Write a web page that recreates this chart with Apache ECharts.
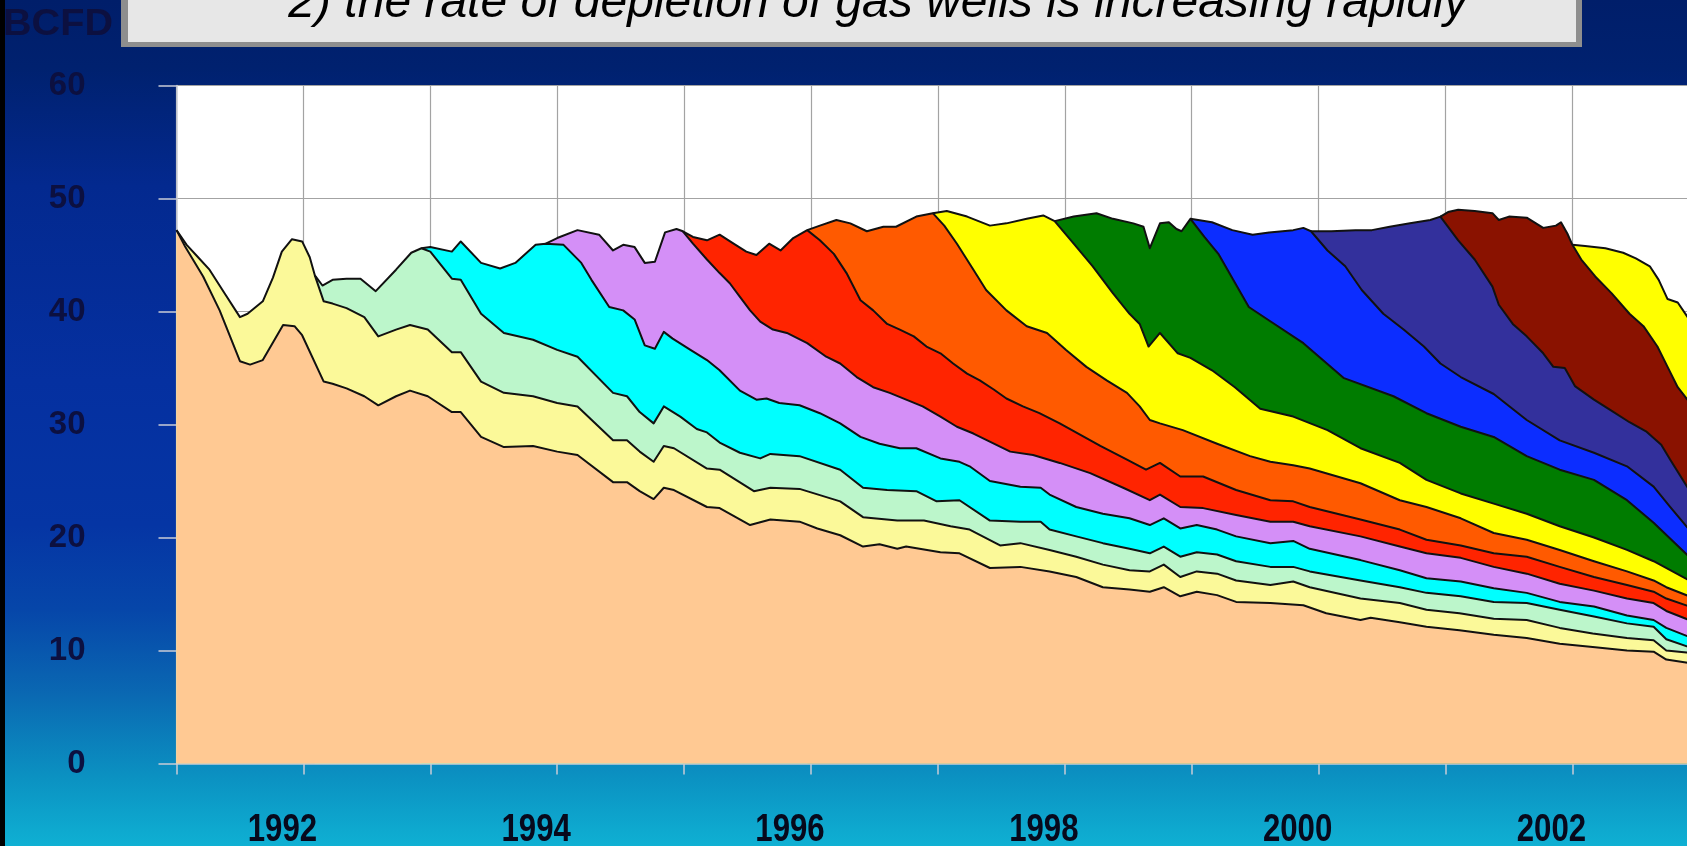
<!DOCTYPE html>
<html><head><meta charset="utf-8">
<script src="https://cdn.jsdelivr.net/npm/echarts@6/dist/echarts.min.js"></script>
<style>
html,body{margin:0;padding:0;overflow:hidden;width:1687px;height:846px;}
#c{width:1700px;height:846px;background:linear-gradient(to right,#000 0,#000 5px,transparent 5px),linear-gradient(to bottom,#001e6a 0%,#00216f 8%,#03298f 22%,#0530a0 45%,#0535a4 62%,#0646a9 72%,#0a68b2 82%,#0b92c2 92%,#0fb0d3 100%);}
</style></head><body><div id="c"></div>
<script>
// Cumulative production (BCFD): top edge of each vintage band, [year, value]
const pre1991 = [[1991.00,47.2],[1991.07,45.7],[1991.21,43.1],[1991.34,40.1],[1991.50,35.6],[1991.58,35.3],[1991.68,35.7],[1991.84,38.8],[1991.93,38.7],[1991.99,37.9],[1992.16,33.8],[1992.23,33.6],[1992.34,33.2],[1992.48,32.5],[1992.59,31.7],[1992.73,32.5],[1992.84,33.0],[1992.98,32.5],[1993.17,31.1],[1993.24,31.1],[1993.40,28.9],[1993.58,28.0],[1993.81,28.1],[1994.00,27.6],[1994.16,27.3],[1994.44,24.9],[1994.55,24.9],[1994.65,24.1],[1994.76,23.4],[1994.84,24.4],[1994.92,24.2],[1995.18,22.7],[1995.28,22.6],[1995.52,21.1],[1995.68,21.6],[1995.91,21.4],[1996.05,20.8],[1996.23,20.2],[1996.41,19.2],[1996.54,19.4],[1996.68,19.0],[1996.75,19.2],[1997.02,18.7],[1997.17,18.6],[1997.41,17.3],[1997.65,17.4],[1997.88,17.0],[1998.09,16.5],[1998.30,15.6],[1998.51,15.4],[1998.67,15.2],[1998.78,15.6],[1998.91,14.8],[1999.04,15.2],[1999.20,14.9],[1999.35,14.3],[1999.62,14.2],[1999.88,14.0],[2000.06,13.3],[2000.33,12.7],[2000.41,12.9],[2000.64,12.5],[2000.85,12.1],[2001.11,11.8],[2001.38,11.4],[2001.64,11.1],[2001.90,10.6],[2002.16,10.3],[2002.43,10.0],[2002.64,9.9],[2002.74,9.2],[2002.92,8.9]];
const v1991 = [[1991.00,47.2],[1991.08,45.9],[1991.17,44.8],[1991.26,43.7],[1991.38,41.6],[1991.50,39.5],[1991.56,39.8],[1991.68,40.9],[1991.76,43.0],[1991.83,45.3],[1991.91,46.4],[1991.99,46.2],[1992.05,44.8],[1992.09,43.2],[1992.16,40.9],[1992.23,40.7],[1992.34,40.3],[1992.48,39.5],[1992.59,37.8],[1992.73,38.4],[1992.84,38.8],[1992.98,38.4],[1993.17,36.4],[1993.24,36.4],[1993.40,33.8],[1993.58,32.8],[1993.81,32.5],[1994.00,31.9],[1994.16,31.6],[1994.44,28.6],[1994.55,28.6],[1994.65,27.6],[1994.76,26.7],[1994.84,28.1],[1994.92,27.9],[1995.18,26.1],[1995.28,26.0],[1995.55,24.1],[1995.68,24.4],[1995.91,24.3],[1996.23,23.2],[1996.41,21.8],[1996.68,21.5],[1996.89,21.5],[1997.10,21.0],[1997.25,20.7],[1997.49,19.3],[1997.65,19.5],[1997.88,18.9],[1998.09,18.3],[1998.30,17.6],[1998.51,17.1],[1998.67,17.0],[1998.78,17.6],[1998.91,16.5],[1999.04,17.0],[1999.20,16.8],[1999.35,16.2],[1999.62,15.8],[1999.80,16.1],[1999.93,15.6],[2000.33,14.6],[2000.64,14.2],[2000.85,13.6],[2001.11,13.3],[2001.38,12.8],[2001.64,12.7],[2001.90,12.0],[2002.16,11.5],[2002.43,11.1],[2002.64,10.9],[2002.74,10.0],[2002.92,9.8]];
const v1992 = [[1992.09,43.2],[1992.15,42.3],[1992.23,42.8],[1992.34,42.9],[1992.45,42.9],[1992.57,41.8],[1992.73,43.7],[1992.85,45.2],[1992.93,45.6],[1993.00,45.3],[1993.17,42.9],[1993.24,42.8],[1993.40,39.8],[1993.58,38.1],[1993.81,37.5],[1994.00,36.6],[1994.16,36.0],[1994.44,32.8],[1994.55,32.5],[1994.65,31.1],[1994.76,30.1],[1994.84,31.6],[1994.97,30.7],[1995.10,29.6],[1995.18,29.3],[1995.28,28.4],[1995.44,27.5],[1995.60,27.0],[1995.68,27.4],[1995.91,27.2],[1996.23,26.0],[1996.41,24.4],[1996.60,24.2],[1996.83,24.1],[1996.99,23.2],[1997.17,23.3],[1997.41,21.5],[1997.65,21.4],[1997.81,21.4],[1997.88,20.7],[1998.09,20.1],[1998.30,19.5],[1998.51,19.0],[1998.67,18.6],[1998.78,19.2],[1998.91,18.3],[1999.04,18.7],[1999.20,18.5],[1999.35,17.9],[1999.62,17.4],[1999.80,17.4],[1999.93,17.0],[2000.33,16.2],[2000.64,15.6],[2000.85,15.1],[2001.12,14.8],[2001.38,14.3],[2001.64,14.2],[2001.90,13.6],[2002.17,13.0],[2002.43,12.4],[2002.64,12.1],[2002.74,11.0],[2002.92,10.3]];
const v1993 = [[1992.93,45.6],[1993.00,45.7],[1993.17,45.3],[1993.24,46.2],[1993.40,44.3],[1993.55,43.8],[1993.67,44.3],[1993.83,45.9],[1993.91,46.0],[1994.05,45.9],[1994.19,44.3],[1994.27,42.8],[1994.41,40.4],[1994.52,40.1],[1994.61,39.3],[1994.69,37.0],[1994.77,36.7],[1994.84,38.2],[1994.91,37.6],[1995.05,36.6],[1995.18,35.7],[1995.28,34.8],[1995.44,33.0],[1995.57,32.2],[1995.65,32.3],[1995.75,31.9],[1995.91,31.7],[1996.07,31.0],[1996.23,30.1],[1996.39,28.9],[1996.54,28.3],[1996.70,27.9],[1996.83,27.9],[1997.02,27.0],[1997.17,26.7],[1997.25,26.3],[1997.41,25.0],[1997.65,24.5],[1997.81,24.4],[1997.88,23.8],[1998.09,22.7],[1998.30,22.1],[1998.51,21.7],[1998.67,21.1],[1998.78,21.7],[1998.91,20.8],[1999.04,21.1],[1999.20,20.7],[1999.35,20.1],[1999.62,19.5],[1999.80,19.7],[1999.93,19.0],[2000.33,18.0],[2000.64,17.1],[2000.85,16.4],[2001.12,16.1],[2001.38,15.5],[2001.64,15.1],[2001.90,14.3],[2002.17,13.9],[2002.43,13.1],[2002.64,12.7],[2002.74,12.0],[2002.92,11.2]];
const v1994 = [[1993.91,46.0],[1994.00,46.5],[1994.16,47.2],[1994.33,46.8],[1994.44,45.4],[1994.52,45.9],[1994.61,45.7],[1994.69,44.3],[1994.77,44.4],[1994.85,47.0],[1994.94,47.3],[1994.99,47.1],[1995.07,46.0],[1995.18,44.6],[1995.28,43.4],[1995.36,42.5],[1995.44,41.3],[1995.52,40.1],[1995.60,39.1],[1995.70,38.4],[1995.81,38.1],[1995.97,37.2],[1996.12,36.0],[1996.23,35.4],[1996.36,34.2],[1996.49,33.3],[1996.62,32.8],[1996.75,32.2],[1996.88,31.6],[1997.02,30.7],[1997.15,29.8],[1997.28,29.2],[1997.57,27.6],[1997.75,27.3],[1997.96,26.6],[1998.20,25.7],[1998.46,24.4],[1998.67,23.3],[1998.75,23.8],[1998.91,22.7],[1999.09,22.6],[1999.35,22.0],[1999.62,21.4],[1999.80,21.4],[1999.93,21.0],[2000.33,20.1],[2000.64,19.2],[2000.85,18.6],[2001.12,18.2],[2001.38,17.4],[2001.64,16.8],[2001.90,15.9],[2002.17,15.3],[2002.43,14.6],[2002.64,14.2],[2002.74,13.5],[2002.92,12.7]];
const v1995 = [[1994.99,47.1],[1995.07,46.6],[1995.18,46.3],[1995.28,46.8],[1995.39,46.0],[1995.49,45.3],[1995.57,45.0],[1995.67,46.0],[1995.76,45.4],[1995.86,46.5],[1995.97,47.2],[1996.07,46.3],[1996.18,45.1],[1996.28,43.4],[1996.39,41.0],[1996.49,40.1],[1996.60,38.9],[1996.70,38.4],[1996.81,37.8],[1996.91,36.9],[1997.02,36.3],[1997.12,35.4],[1997.23,34.5],[1997.33,33.9],[1997.44,33.1],[1997.54,32.3],[1997.67,31.6],[1997.80,31.0],[1997.96,30.1],[1998.12,29.1],[1998.28,28.1],[1998.49,26.9],[1998.64,26.0],[1998.75,26.6],[1998.91,25.4],[1999.09,25.4],[1999.35,24.2],[1999.62,23.3],[1999.80,23.2],[1999.93,22.7],[2000.33,21.6],[2000.64,20.7],[2000.85,19.8],[2001.12,19.3],[2001.38,18.6],[2001.64,18.3],[2001.90,17.4],[2002.17,16.5],[2002.43,15.8],[2002.64,15.2],[2002.74,14.6],[2002.92,13.9]];
const v1996 = [[1995.97,47.2],[1996.07,47.6],[1996.20,48.1],[1996.31,47.8],[1996.44,47.1],[1996.57,47.5],[1996.67,47.5],[1996.83,48.4],[1996.96,48.7],[1997.05,47.6],[1997.15,46.0],[1997.28,43.7],[1997.38,41.9],[1997.54,40.1],[1997.70,38.7],[1997.86,38.1],[1998.01,36.6],[1998.17,35.1],[1998.33,33.9],[1998.49,32.8],[1998.59,31.6],[1998.67,30.4],[1998.75,30.1],[1998.93,29.5],[1999.20,28.3],[1999.46,27.2],[1999.62,26.7],[1999.80,26.4],[1999.93,26.1],[2000.33,24.8],[2000.64,23.3],[2000.85,22.7],[2001.12,21.7],[2001.38,20.4],[2001.64,19.8],[2001.90,18.9],[2002.17,17.9],[2002.43,17.0],[2002.64,16.2],[2002.74,15.6],[2002.92,14.8]];
const v1997 = [[1996.96,48.7],[1997.07,48.9],[1997.23,48.4],[1997.41,47.6],[1997.54,47.8],[1997.70,48.2],[1997.83,48.5],[1997.92,48.0],[1998.07,46.0],[1998.22,44.0],[1998.38,41.6],[1998.51,39.8],[1998.59,38.9],[1998.66,36.9],[1998.75,38.1],[1998.89,36.3],[1998.99,35.9],[1999.16,34.8],[1999.34,33.3],[1999.54,31.4],[1999.80,30.7],[2000.07,29.5],[2000.33,27.9],[2000.64,26.6],[2000.85,25.1],[2001.12,23.9],[2001.38,23.0],[2001.64,22.1],[2001.90,21.0],[2002.17,20.0],[2002.43,18.9],[2002.64,17.9],[2002.92,16.2]];
const v1998 = [[1997.92,48.0],[1998.07,48.4],[1998.25,48.7],[1998.38,48.2],[1998.54,47.8],[1998.62,47.5],[1998.67,45.6],[1998.75,47.8],[1998.82,47.9],[1998.88,47.3],[1998.92,47.1],[1998.99,48.2],[1999.10,46.6],[1999.21,45.1],[1999.45,40.4],[1999.61,39.2],[1999.88,37.2],[2000.20,34.1],[2000.59,32.5],[2000.85,31.0],[2001.12,29.8],[2001.38,28.9],[2001.64,27.2],[2001.90,26.0],[2002.17,25.1],[2002.43,23.3],[2002.64,21.3],[2002.92,18.3]];
const v1999 = [[1998.99,48.2],[1999.16,47.9],[1999.32,47.2],[1999.48,46.8],[1999.61,47.0],[1999.80,47.2],[1999.88,47.4],[1999.94,47.1],[2000.07,45.4],[2000.21,44.0],[2000.34,41.9],[2000.51,39.8],[2000.67,38.4],[2000.83,36.9],[2000.96,35.4],[2001.12,34.2],[2001.38,32.7],[2001.64,30.4],[2001.90,28.6],[2002.17,27.5],[2002.43,26.3],[2002.64,24.5],[2002.77,22.7],[2002.92,20.7]];
const v2000 = [[1999.94,47.1],[2000.10,47.1],[2000.29,47.2],[2000.42,47.2],[2000.56,47.5],[2000.72,47.8],[2000.88,48.1],[2000.96,48.4],[2001.10,46.3],[2001.23,44.6],[2001.37,42.2],[2001.42,40.6],[2001.53,38.9],[2001.64,37.8],[2001.77,36.3],[2001.85,35.1],[2001.94,35.0],[2002.02,33.4],[2002.17,32.2],[2002.31,31.2],[2002.45,30.2],[2002.58,29.4],[2002.70,28.2],[2002.77,26.9],[2002.92,24.2]];
const v2001 = [[2000.96,48.4],[2001.02,48.8],[2001.10,49.0],[2001.23,48.9],[2001.37,48.7],[2001.42,48.1],[2001.50,48.4],[2001.64,48.3],[2001.77,47.4],[2001.87,47.6],[2001.91,47.9],[2001.96,46.9],[2002.00,45.9],[2002.07,44.6],[2002.18,43.1],[2002.31,41.6],[2002.45,39.8],[2002.56,38.7],[2002.67,36.9],[2002.75,35.1],[2002.83,33.3],[2002.92,32.0]];
const v2002 = [[2002.00,45.9],[2002.10,45.8],[2002.26,45.6],[2002.40,45.2],[2002.50,44.7],[2002.61,44.0],[2002.68,42.8],[2002.75,41.1],[2002.83,40.8],[2002.92,39.3]];

const bandNames = ['Pre-1991','1991','1992','1993','1994','1995','1996','1997','1998','1999','2000','2001','2002'];
const bandColors = ['#FFC993','#FBF999','#BCF6CB','#00FFFF','#D48FF7','#FF2400','#FF5A00','#FFFF00','#007C00','#0C2DFF','#33309C','#8A1200','#FFFF00'];
const bandData = [pre1991,v1991,v1992,v1993,v1994,v1995,v1996,v1997,v1998,v1999,v2000,v2001,v2002];

const yTicks = {min:0, max:60, step:10};
const xTicks = {min:1991, max:2003, step:1};
const xLabelYears = [1992, 1994, 1996, 1998, 2000, 2002];
const titleText = '2) the rate of depletion of gas wells is increasing rapidly';
const unitText = 'BCFD';

const chart = echarts.init(document.getElementById('c'), null, {renderer:'canvas'});
const series = [];
for (let i = bandData.length - 1; i >= 0; i--) {
  series.push({
    name: bandNames[i], type:'line', data: bandData[i], symbol:'none', silent:true,
    lineStyle:{width:0}, areaStyle:{color:bandColors[i], opacity:1, origin:'start'}, z:2
  });
}
for (let i = bandData.length - 1; i >= 0; i--) {
  series.push({
    name: bandNames[i] + ' edge', type:'line', data: bandData[i], symbol:'none', silent:true,
    lineStyle:{color:'#111111', width:2, join:'round'}, z:3
  });
}
const axisGray = '#c9ccd6';
const gridGray = '#a3a3a3';
chart.setOption({
  animation:false,
  grid:{left:176.5, top:85.5, width:1522.8, height:678, show:true, backgroundColor:'#ffffff', borderWidth:0},
  xAxis:{type:'value', min:xTicks.min, max:xTicks.max, interval:xTicks.step,
    axisLine:{show:true, lineStyle:{color:axisGray, width:1.5}},
    axisTick:{show:true, length:11, lineStyle:{color:axisGray, width:1.5}},
    splitLine:{show:true, lineStyle:{color:gridGray, width:1.2}},
    axisLabel:{show:false}},
  yAxis:{type:'value', min:yTicks.min, max:yTicks.max, interval:yTicks.step,
    axisLine:{show:true, lineStyle:{color:axisGray, width:1.5}},
    axisTick:{show:true, length:18, lineStyle:{color:axisGray, width:1.5}},
    splitLine:{show:true, lineStyle:{color:gridGray, width:1.2}},
    axisLabel:{margin:91, fontFamily:'"Liberation Sans",Arial,sans-serif', fontWeight:'bold', fontSize:33, color:'#0c1040'}},
  series: series
});

// Year labels: placed through the x axis scale, horizontally condensed like the original narrow face
const yearLabels = xLabelYears.map(yr => ({
  type:'text', z:50, x: chart.convertToPixel({xAxisIndex:0}, yr) - 21, y: 831, scaleX: 0.82,
  style:{text:String(yr), font:'bold 38px "Liberation Sans"', fill:'#07091c', align:'center', verticalAlign:'middle', textAlign:'center', textVerticalAlign:'middle'}
}));
chart.setOption({
  graphic:[
    {type:'rect', z:100, shape:{x:121, y:-10, width:1461, height:57}, style:{fill:'#8e8e8e'}},
    {type:'rect', z:101, shape:{x:128, y:-10, width:1448, height:52}, style:{fill:'#e7e7e7'}},
    {type:'text', z:102, style:{text:titleText, x:878, y:4, font:'italic 48px "Liberation Sans"', fill:'#000', align:'center', verticalAlign:'middle', textAlign:'center', textVerticalAlign:'middle'}},
    {type:'text', z:102, x:3, y:25, scaleX:1.1, style:{text:unitText, x:0, y:0, font:'bold 36px "Liberation Sans"', fill:'#0c1040', align:'left', verticalAlign:'middle', textAlign:'left', textVerticalAlign:'middle'}}
  ].concat(yearLabels)
});
</script></body></html>
